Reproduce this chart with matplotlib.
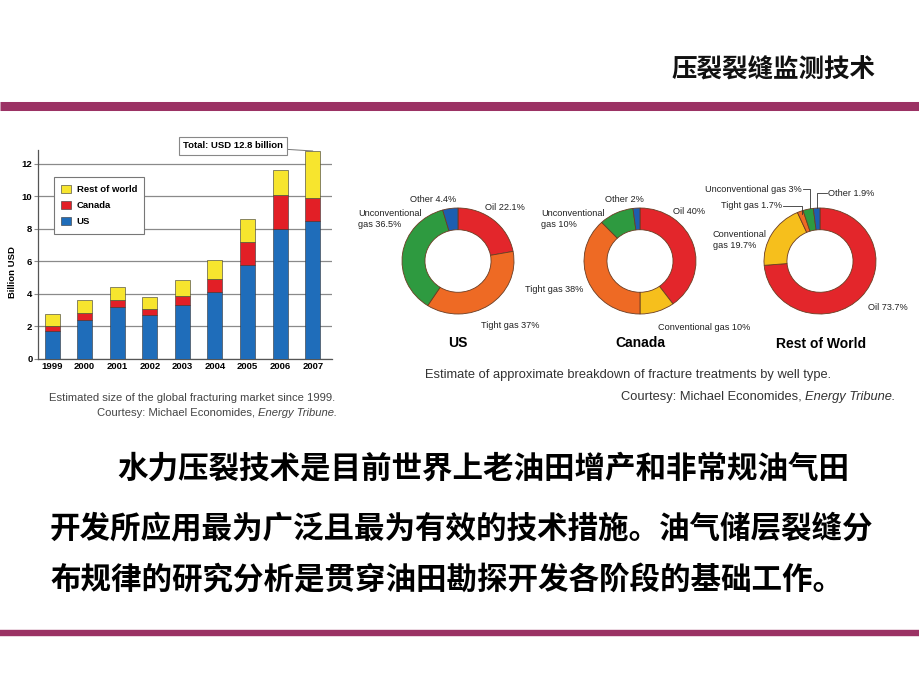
import matplotlib.pyplot as plt
import numpy as np

W, H = 920, 690

# stacked bar chart: global fracturing market, billion USD
years = ['1999', '2000', '2001', '2002', '2003', '2004', '2005', '2006', '2007']
us = [1.7, 2.4, 3.2, 2.7, 3.3, 4.1, 5.8, 8.0, 8.5]
canada = [0.3, 0.45, 0.4, 0.4, 0.55, 0.8, 1.4, 2.1, 1.4]
rest = [0.75, 0.8, 0.8, 0.7, 1.0, 1.2, 1.4, 1.5, 2.9]
yticks = [0, 2, 4, 6, 8, 10, 12]

# donuts: share of fracture treatments by well type (clockwise from 12 o'clock)
us_kinds = ['oil', 'tight', 'unconv', 'other']
us_share = [22.1, 37.0, 36.5, 4.4]
ca_kinds = ['oil', 'conv', 'tight', 'unconv', 'other']
ca_share = [40, 10, 38, 10, 2]
row_kinds = ['oil', 'conv', 'tight', 'unconv', 'other']
row_share = [73.7, 19.7, 1.7, 3.0, 1.9]

title = '压裂裂缝监测技术'
body = ['水力压裂技术是目前世界上老油田增产和非常规油气田',
        '开发所应用最为广泛且最为有效的技术措施。油气储层裂缝分',
        '布规律的研究分析是贯穿油田勘探开发各阶段的基础工作。']

well_colors = {'oil': '#E3262B', 'conv': '#F6BF1C', 'tight': '#EE6A24',
               'unconv': '#2E9A40', 'other': '#1D5EB0'}
maroon = '#9B3264'

plt.rcParams['font.family'] = ['Liberation Sans', 'DejaVu Sans']
cjk = ['Noto Sans CJK SC', 'DejaVu Sans']

fig = plt.figure(figsize=(W / 100, H / 100), dpi=100)
fig.patch.set_facecolor('white')

# overlay in pixel coordinates (y down) for slide decorations and labels
ov = fig.add_axes([0, 0, 1, 1], zorder=10)
ov.set_xlim(0, W)
ov.set_ylim(H, 0)
ov.axis('off')

ov.plot([0, W], [105.5, 105.5], color=maroon, lw=6.5, solid_capstyle='butt')
ov.plot([0, W], [632.5, 632.5], color=maroon, lw=4.6, solid_capstyle='butt')
ov.text(875, 70, title, family=cjk, fontsize=18.4, fontweight='bold',
        ha='right', va='center', color='#111')

# ---- bar chart ----
ax = fig.add_axes([38 / W, 1 - 359 / H, 294 / W, 209 / H])
x = np.arange(len(years))
us_a = np.array(us)
ca_a = np.array(canada)
ax.bar(x, us, 0.46, color='#1F6DBA', edgecolor='#333', lw=0.4, label='US', zorder=3)
ax.bar(x, canada, 0.46, bottom=us_a, color='#E21F26', edgecolor='#333', lw=0.4,
       label='Canada', zorder=3)
ax.bar(x, rest, 0.46, bottom=us_a + ca_a, color='#F7E52E', edgecolor='#333', lw=0.4,
       label='Rest of world', zorder=3)
ax.set_xlim(-0.43, 8.59)
ax.set_ylim(0, 12.86)
ax.set_yticks(yticks)
ax.set_xticks(x)
ax.set_xticklabels(years)
ax.grid(axis='y', color='#8a8a8a', lw=0.9, zorder=0)
for s in ['top', 'right']:
    ax.spines[s].set_visible(False)
for s in ['left', 'bottom']:
    ax.spines[s].set_color('#555')
    ax.spines[s].set_linewidth(0.9)
ax.tick_params(axis='y', length=3, color='#8a8a8a', pad=1, labelsize=6.8)
ax.tick_params(axis='x', length=0, pad=2.5, labelsize=6.8)
for t in ax.get_xticklabels() + ax.get_yticklabels():
    t.set_fontweight('bold')
ax.set_ylabel('Billion USD', fontsize=6.8, fontweight='bold')
ax.yaxis.set_label_coords(-0.071, 0.416)
h, l = ax.get_legend_handles_labels()
leg = ax.legend(h[::-1], l[::-1], loc='upper left', bbox_to_anchor=(0.038, 0.892),
                fancybox=False, edgecolor='#777', framealpha=1,
                prop={'size': 6.8, 'weight': 'bold'}, handlelength=1.0,
                handleheight=1.0, borderpad=0.8, labelspacing=0.7, handletextpad=0.6)
leg.get_frame().set_linewidth(0.8)
ax.annotate('Total: USD 12.8 billion', xy=(8, 12.8), xytext=(233, 146),
            textcoords=ov.transData, fontsize=6.8, fontweight='bold', ha='center',
            va='center', annotation_clip=False,
            bbox=dict(boxstyle='square,pad=0.45', fc='white', ec='#888', lw=0.8),
            arrowprops=dict(arrowstyle='-', color='#777', lw=0.7, shrinkA=0, shrinkB=0))

cap = '#444'
ov.text(49, 398, 'Estimated size of the global fracturing market since 1999.',
        fontsize=8.1, color=cap, ha='left', va='center')
t1 = ov.text(97, 413, 'Courtesy: Michael Economides, ', fontsize=8.1, color=cap,
             ha='left', va='center')
ov.annotate('Energy Tribune.', xy=(1, 0.5), xycoords=t1, fontsize=8.1, color=cap,
            style='italic', ha='left', va='center')


# ---- donuts ----
def donut(cx, cy, shares, kinds):
    k = 1.03
    a = fig.add_axes([(cx - 56 * k) / W, 1 - (cy + 53 * k) / H,
                      112 * k / W, 106 * k / H])
    a.pie(shares, colors=[well_colors[c] for c in kinds], startangle=90,
          counterclock=False, radius=1,
          wedgeprops=dict(width=0.41, edgecolor='#6a3c22', linewidth=0.6))
    a.set_xlim(-k, k)
    a.set_ylim(-k, k)
    a.set_aspect('auto')
    a.axis('off')


donut(458, 261, us_share, us_kinds)
donut(640, 261, ca_share, ca_kinds)
donut(820, 261, row_share, row_kinds)

lab = dict(fontsize=6.6, color='#222', va='center')
# US
ov.text(433, 200, 'Other 4.4%', ha='center', **lab)
ov.text(485, 207, 'Oil 22.1%', ha='left', **lab)
ov.text(358, 219, 'Unconventional\ngas 36.5%', ha='left', linespacing=1.15, **lab)
ov.text(481, 325, 'Tight gas 37%', ha='left', **lab)
ov.text(458, 343, 'US', ha='center', va='center', fontsize=10, fontweight='bold')
# Canada
ov.text(624, 200, 'Other 2%', ha='center', **lab)
ov.text(673, 212, 'Oil 40%', ha='left', **lab)
ov.text(541, 219, 'Unconventional\ngas 10%', ha='left', linespacing=1.15, **lab)
ov.text(525, 289, 'Tight gas 38%', ha='left', **lab)
ov.text(658, 328, 'Conventional gas 10%', ha='left', **lab)
ov.text(640, 343, 'Canada', ha='center', va='center', fontsize=10, fontweight='bold')
# Rest of World
ov.text(802, 189, 'Unconventional gas 3%', ha='right', **lab)
ov.plot([803, 810, 810], [189, 189, 208], color='#333', lw=0.6)
ov.text(782, 206, 'Tight gas 1.7%', ha='right', **lab)
ov.plot([783, 802, 802], [206, 206, 214], color='#333', lw=0.6)
ov.text(828, 193, 'Other 1.9%', ha='left', **lab)
ov.plot([827, 817, 817], [193, 193, 208], color='#333', lw=0.6)
ov.text(713, 240, 'Conventional\ngas 19.7%', ha='left', linespacing=1.15, **lab)
ov.text(868, 307, 'Oil 73.7%', ha='left', **lab)
ov.text(821, 344, 'Rest of World', ha='center', va='center', fontsize=10,
        fontweight='bold')

ov.text(425, 375, 'Estimate of approximate breakdown of fracture treatments by well type.',
        fontsize=9.3, color='#333', ha='left', va='center')
t2 = ov.text(621, 397, 'Courtesy: Michael Economides, ', fontsize=9.3, color='#333',
             ha='left', va='center')
ov.annotate('Energy Tribune.', xy=(1, 0.5), xycoords=t2, fontsize=9.3, color='#333',
            style='italic', ha='left', va='center')

# ---- body text ----
for (bx, by), line in zip([(117, 468), (50, 528), (50, 580)], body):
    ov.text(bx, by, line, family=cjk, fontsize=22, fontweight='bold',
            ha='left', va='center', color='#000')

fig.savefig('out.png', dpi=100, facecolor='white')
